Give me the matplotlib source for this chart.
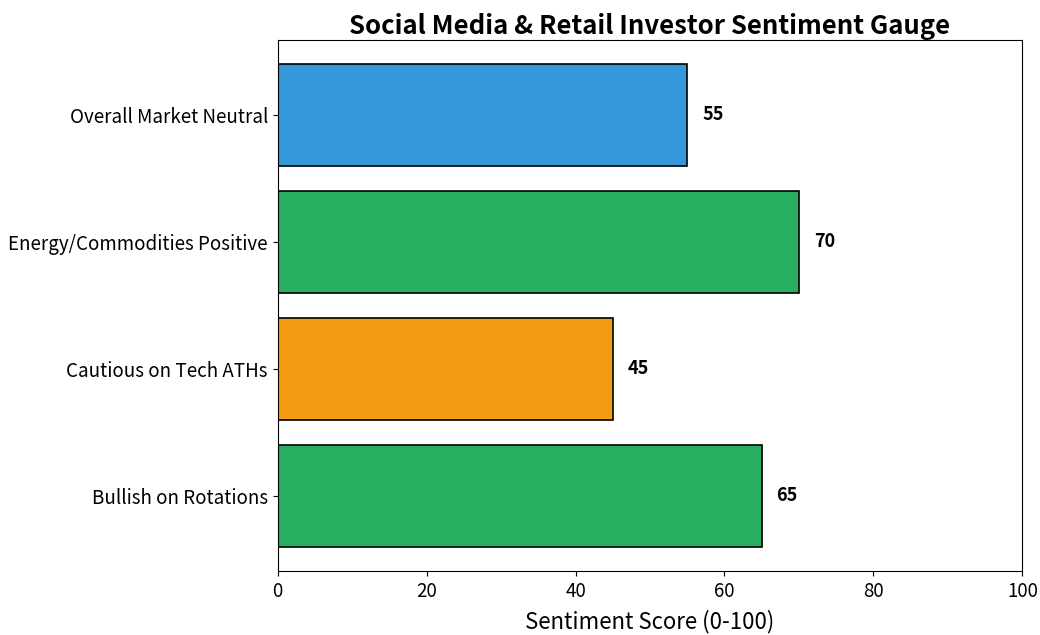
import matplotlib
matplotlib.use('Agg')
import matplotlib.pyplot as plt

plt.rcParams['font.family'] = ['Noto Sans CJK SC', 'DejaVu Sans']

# sentiment data, bottom to top
categories = ['Bullish on Rotations', 'Cautious on Tech ATHs',
              'Energy/Commodities Positive', 'Overall Market Neutral']
scores = [65, 45, 70, 55]
colors = ['#27ae60', '#f39c12', '#27ae60', '#3498db']

fig, ax = plt.subplots(figsize=(10.4, 6.35), dpi=100)
fig.subplots_adjust(left=0.267, right=0.983, top=0.937, bottom=0.101)

bars = ax.barh(categories, scores, height=0.8, color=colors,
               edgecolor='black', linewidth=1.2)
for b, v in zip(bars, scores):
    ax.text(v + 2, b.get_y() + b.get_height() / 2, str(v),
            va='center', ha='left', fontsize=13, fontweight='bold')

ax.set_xlim(0, 100)
ax.set_xlabel('Sentiment Score (0-100)', fontsize=16, labelpad=6)
ax.set_title('Social Media & Retail Investor Sentiment Gauge',
             fontsize=18.5, fontweight='bold', pad=4)
ax.tick_params(axis='both', labelsize=13.5)

fig.savefig('out.png', dpi=100)
